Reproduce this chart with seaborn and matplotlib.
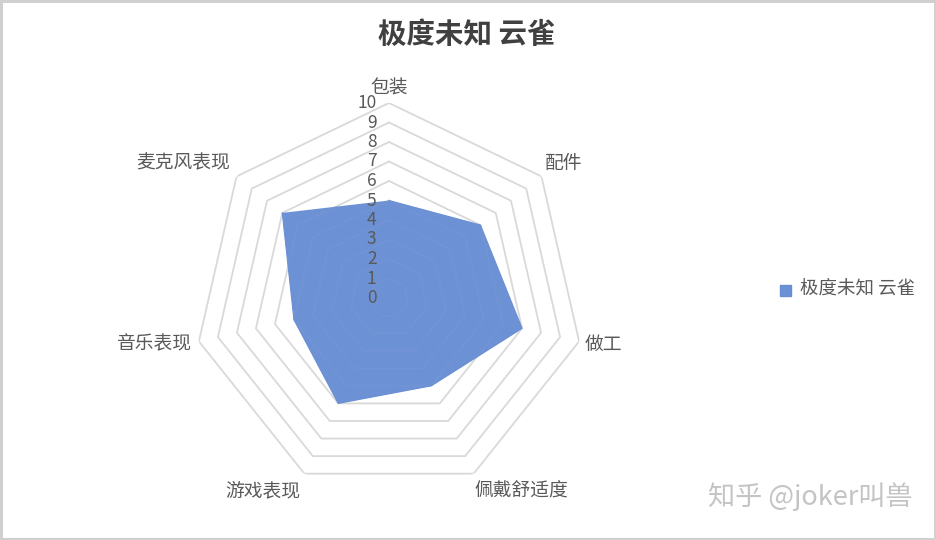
import numpy as np
import pandas as pd
import matplotlib
matplotlib.use("Agg")
import matplotlib.pyplot as plt
import matplotlib.transforms as mtransforms
import seaborn as sns

# ---- data ----
categories = ["包装", "配件", "做工", "佩戴舒适度", "游戏表现", "音乐表现", "麦克风表现"]
values = [5, 6, 7, 5, 6, 5, 7]
series_name = "极度未知 云雀"
title = "极度未知 云雀"
r_ticks = [0, 1, 2, 3, 4, 5, 6, 7, 8, 9, 10]
watermark = "知乎 @joker叫兽"

sns.set_theme(style="white")
plt.rcParams["font.family"] = ["Noto Sans CJK SC", "DejaVu Sans"]

W, H = 936, 540
fig = plt.figure(figsize=(W / 100, H / 100), dpi=100)
fig.patch.set_edgecolor("#d0d0d0")
fig.patch.set_linewidth(2.5)

cx, cy, R = 389, 298, 195
ax = fig.add_axes([(cx - R) / W, (H - cy - R) / H, 2 * R / W, 2 * R / H], projection="polar")
ax.set_theta_zero_location("N")
ax.set_theta_direction(-1)
ax.set_ylim(0, r_ticks[-1])
ax.patch.set_alpha(0)

n = len(categories)
angles = np.arange(n) * 2 * np.pi / n
ang_closed = np.append(angles, angles[0])

# polygonal gridlines
grid_color = "#d9d9d9"
for r in r_ticks[1:]:
    ax.plot(ang_closed, [r] * (n + 1), color=grid_color, lw=1.3, zorder=1)

# data polygon
df = pd.DataFrame({"theta": ang_closed, "r": values + [values[0]]})
poly = ax.fill(df["theta"], df["r"], color="#6289d2", alpha=0.93, lw=0, zorder=2)[0]
sns.lineplot(data=df, x="theta", y="r", sort=False, ax=ax, color="#6a8fd4", lw=0.8, zorder=3, legend=False)

# faint rings visible through fill (clipped to the polygon)
for r in r_ticks[1:]:
    ln, = ax.plot(ang_closed, [r] * (n + 1), color="#7a9bd8", lw=1.0, alpha=0.6, zorder=2.5)
    ln.set_clip_path(poly)

ax.set_xlabel("")
ax.set_ylabel("")
ax.set_xticks([])
ax.set_yticks([])
ax.grid(False)
ax.spines["polar"].set_visible(False)

# radial tick labels
off = mtransforms.offset_copy(ax.transData, fig=fig, x=-9, y=0, units="points")
for r in r_ticks:
    ax.text(0, r, str(r), transform=off, ha="right", va="center",
            fontsize=12.5, color="#595959", zorder=5)

# category labels: (radius, ha, pixel dx, pixel dy)
label_cfg = [
    (11.0, "center", 0, -5),
    (10.6, "left", -6, 6),
    (10.3, "left", 0, -2),
    (10.8, "left", -6, -3),
    (10.8, "right", 3, -3),
    (10.45, "right", 2, 0),
    (10.8, "right", 5, 4),
]
for a, lab, (rr, ha, dx, dy) in zip(angles, categories, label_cfg):
    ax.annotate(lab, xy=(a, rr), xytext=(dx * 0.72, dy * 0.72), textcoords="offset points",
                ha=ha, va="center", fontsize=13.5, color="#595959", annotation_clip=False)

# title
fig.text(467 / W, 1 - 35 / H, title, ha="center", va="center", fontsize=20.5,
         fontweight="bold", color="#404040")

# legend
fig.patches.append(plt.Rectangle((780 / W, 1 - 296 / H), 11 / W, 11 / H,
                                 transform=fig.transFigure, color="#6289d2", alpha=0.93))
fig.text(800 / W, 1 - 290 / H, series_name, ha="left", va="center", fontsize=13.3, color="#595959")

# watermark
fig.text(912 / W, 1 - 497 / H, watermark, ha="right", va="center", fontsize=19.5,
         color="#c4c4c4")

fig.savefig("out.png", dpi=100)
